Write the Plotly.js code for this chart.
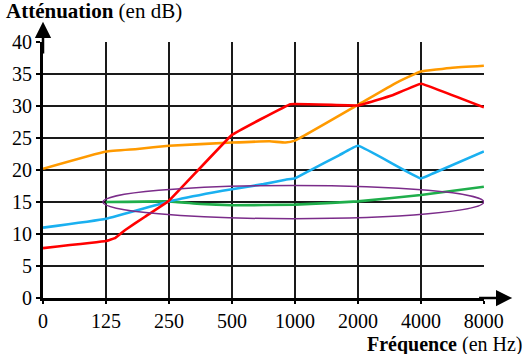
<!DOCTYPE html>
<html>
<head>
<meta charset="utf-8">
<script src="https://cdn.plot.ly/plotly-3.0.1.min.js"></script>
<style>html,body{margin:0;padding:0;background:#fff;}#chart{width:529px;height:354px;}</style>
</head>
<body>
<div id="chart"></div>
<script>
// Frequency category labels (positions 0..7 on the axis)
var freqLabels = ['0', '125', '250', '500', '1000', '2000', '4000', '8000'];
var freqPos = [0, 1, 2, 3, 4, 5, 6, 7];

// Orange curve
var orangeX = [0, 1, 1.5, 2, 3, 3.6, 3.85, 4, 5, 5.6, 5.9, 6, 6.5, 7];
var orangeY = [20.2, 22.9, 23.3, 23.8, 24.3, 24.5, 24.3, 24.6, 30.2, 33.6, 35.0, 35.4, 36.0, 36.3];

// Red curve
var redX = [0, 1, 1.15, 1.3, 1.62, 2, 3, 3.93, 5, 5.55, 6, 7];
var redY = [7.8, 8.9, 9.4, 10.6, 12.7, 15.2, 25.5, 30.3, 30.1, 31.7, 33.5, 29.8];

// Blue curve
var blueX = [0, 1, 2, 2.7, 3, 3.5, 3.85, 4, 4.25, 4.7, 5, 6, 6.2, 7];
var blueY = [11.0, 12.4, 15.1, 16.5, 17.0, 17.8, 18.5, 18.7, 20.0, 22.3, 23.8, 18.7, 19.5, 22.9];

// Green curve
var greenX = [1, 2, 2.5, 3, 4, 5, 6, 7];
var greenY = [15.0, 15.1, 14.7, 14.5, 14.6, 15.1, 16.1, 17.4];

// Purple ellipse bounds
var ellipseX = [0.95, 7];
var ellipseY = [12.4, 17.6];

var yTicks = [0, 5, 10, 15, 20, 25, 30, 35, 40];

function line(x, y, color, sm) {
  return {x: x, y: y, type: 'scatter', mode: 'lines',
    line: {color: color, width: 2.6, shape: 'spline', smoothing: sm},
    hoverinfo: 'skip', showlegend: false, cliponaxis: false};
}

var data = [
  line(greenX, greenY, '#1fae4b', 0.3),
  line(blueX, blueY, '#1ab0f0', 0.3),
  line(orangeX, orangeY, '#ff9a00', 0.3),
  line(redX, redY, '#ff0000', 0.15)
];

var serif = '"Liberation Serif", "Times New Roman", serif';

var layout = {
  width: 529, height: 354,
  margin: {l: 43, r: 45, t: 42, b: 56},
  paper_bgcolor: '#ffffff', plot_bgcolor: '#ffffff',
  showlegend: false,
  font: {family: serif, size: 20, color: '#000'},
  xaxis: {
    range: [0, 7.002], tickmode: 'array', tickvals: freqPos, ticktext: freqLabels,
    showgrid: true, gridcolor: '#1a1a1a', gridwidth: 2,
    zeroline: false, showline: true, linecolor: '#000', linewidth: 3,
    ticks: 'outside', ticklen: 3, tickwidth: 2, tickcolor: '#000',
    tickfont: {family: serif, size: 20, color: '#000'}, fixedrange: true
  },
  yaxis: {
    range: [0, 40.02], tickmode: 'array', tickvals: yTicks,
    showgrid: true, gridcolor: '#1a1a1a', gridwidth: 2,
    zeroline: false, showline: true, linecolor: '#000', linewidth: 3,
    ticks: 'outside', ticklen: 4, tickwidth: 2, tickcolor: '#000',
    tickfont: {family: serif, size: 20, color: '#000'}, fixedrange: true
  },
  shapes: [{
    type: 'circle', xref: 'x', yref: 'y',
    x0: ellipseX[0], x1: ellipseX[1], y0: ellipseY[0], y1: ellipseY[1],
    line: {color: '#7b2c8a', width: 1.5}, layer: 'above'
  }],
  annotations: [
    {x: 0, y: 43.2, ax: 0, ay: 38, xref: 'x', yref: 'y', axref: 'x', ayref: 'y',
     showarrow: true, arrowhead: 2, arrowsize: 1.3, arrowwidth: 2.5, arrowcolor: '#000', text: ''},
    {x: 7.45, y: 0, ax: 6.9, ay: 0, xref: 'x', yref: 'y', axref: 'x', ayref: 'y',
     showarrow: true, arrowhead: 2, arrowsize: 1.3, arrowwidth: 2.5, arrowcolor: '#000', text: ''},
    {xref: 'paper', yref: 'paper', x: -0.088, y: 1.12, xanchor: 'left', yanchor: 'middle',
     showarrow: false, text: '<b>Atténuation</b> (en dB)', font: {family: serif, size: 21, color: '#000'}},
    {xref: 'paper', yref: 'paper', x: 1.093, y: -0.183, xanchor: 'right', yanchor: 'middle',
     showarrow: false, text: '<b>Fréquence</b> (en Hz)', font: {family: serif, size: 20, color: '#000'}}
  ]
};

Plotly.newPlot('chart', data, layout, {displayModeBar: false, staticPlot: true});
</script>
</body>
</html>
